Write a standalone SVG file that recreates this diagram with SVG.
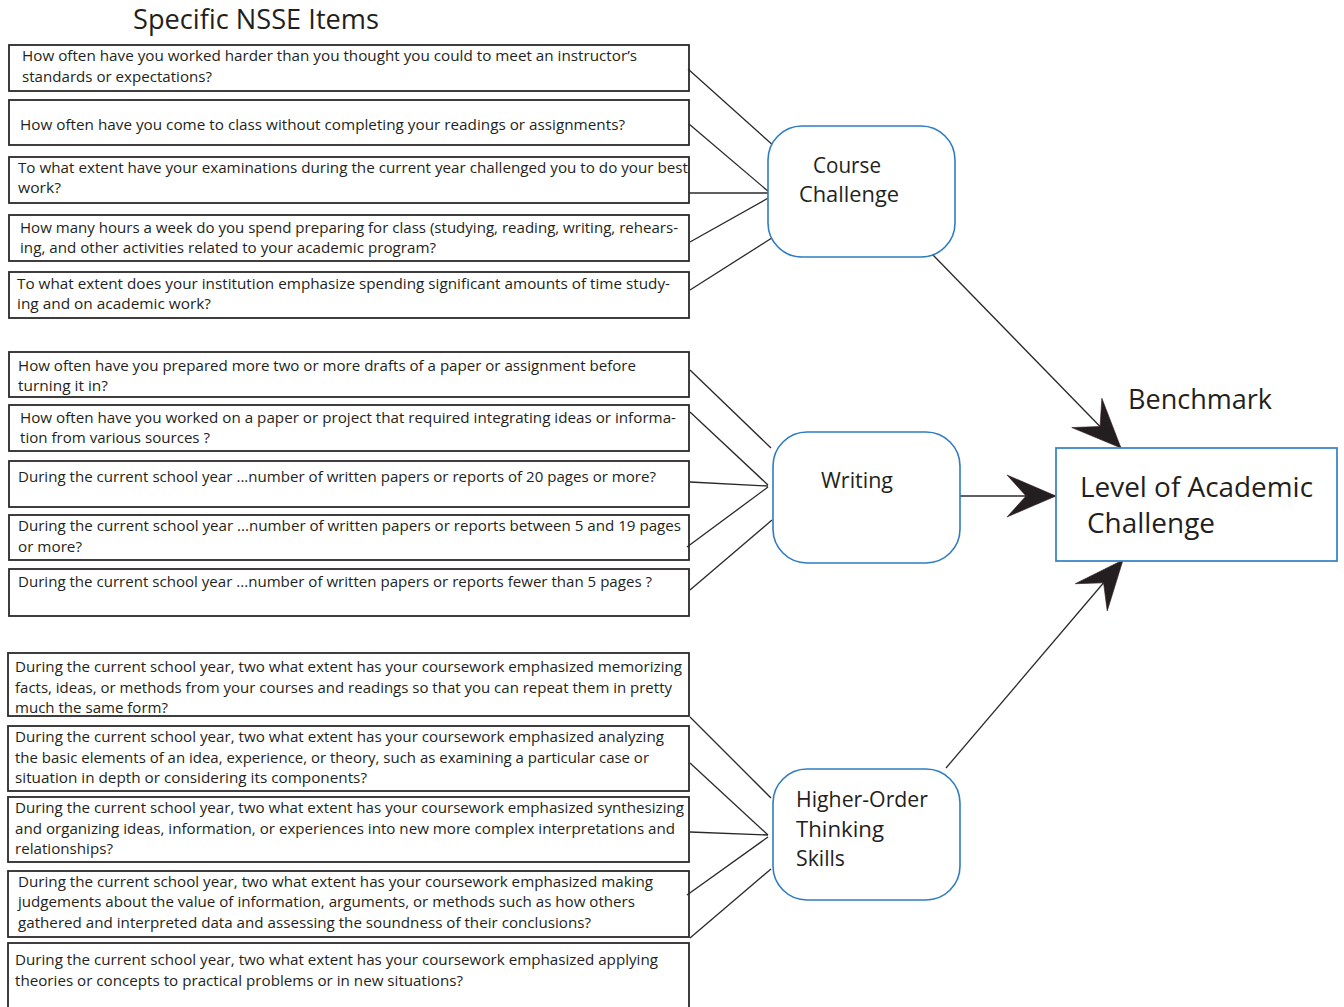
<svg xmlns="http://www.w3.org/2000/svg" width="1344" height="1007" viewBox="0 0 1344 1007">
  <style>
    .bg { fill: #ffffff; }
    .box { fill: #ffffff; stroke: #2b2828; stroke-width: 1.8; }
    .node { fill: #ffffff; stroke: #2f7cc2; stroke-width: 1.6; }
    .bench { fill: #ffffff; stroke: #3b86c8; stroke-width: 1.8; }
    .q { font-family: "Open Sans", "Noto Sans", "Liberation Sans", sans-serif; font-size: 14px; fill: #231f20; }
    .lbl { font-family: "Open Sans", "Noto Sans", "Liberation Sans", sans-serif; font-size: 22px; fill: #231f20; }
    .big { font-family: "Open Sans", "Noto Sans", "Liberation Sans", sans-serif; font-size: 27px; fill: #231f20; }
    .conn { stroke: #2b2828; stroke-width: 1.3; fill: none; }
    .arrow { stroke: #2b2828; stroke-width: 1.3; fill: none; marker-end: url(#stealth); }
  </style>
  <defs>
    <marker id="stealth" markerUnits="userSpaceOnUse" orient="auto" refX="0" refY="0" markerWidth="60" markerHeight="60" overflow="visible">
      <path d="M0,0 L-49,-21 L-30,0 L-49,21 Z" fill="#231f20" stroke="#3a1e1e" stroke-width="0.6"/>
    </marker>
  </defs>

  <rect class="bg" x="0" y="0" width="1344" height="1007"/>

  <text class="big" x="133" y="29" textLength="246" lengthAdjust="spacingAndGlyphs">Specific NSSE Items</text>

  <!-- Course challenge items -->
  <g id="item-1">
    <rect class="box" x="9" y="45" width="680" height="46"/>
    <text class="q" x="22" y="61" textLength="615" lengthAdjust="spacingAndGlyphs">How often have you worked harder than you thought you could to meet an instructor’s</text>
    <text class="q" x="22" y="82" textLength="190" lengthAdjust="spacingAndGlyphs">standards or expectations?</text>
  </g>
  <g id="item-2">
    <rect class="box" x="9" y="100" width="680" height="45"/>
    <text class="q" x="20" y="130" textLength="605" lengthAdjust="spacingAndGlyphs">How often have you come to class without completing your readings or assignments?</text>
  </g>
  <g id="item-3">
    <rect class="box" x="9" y="157" width="680" height="46"/>
    <text class="q" x="18" y="173" textLength="670" lengthAdjust="spacingAndGlyphs">To what extent have your examinations during the current year challenged you to do your best</text>
    <text class="q" x="18" y="193" textLength="43" lengthAdjust="spacingAndGlyphs">work?</text>
  </g>
  <g id="item-4">
    <rect class="box" x="9" y="215" width="680" height="46"/>
    <text class="q" x="20" y="233" textLength="658" lengthAdjust="spacingAndGlyphs">How many hours a week do you spend preparing for class (studying, reading, writing, rehears-</text>
    <text class="q" x="20" y="253" textLength="416" lengthAdjust="spacingAndGlyphs">ing, and other activities related to your academic program?</text>
  </g>
  <g id="item-5">
    <rect class="box" x="9" y="272" width="680" height="46"/>
    <text class="q" x="17" y="289" textLength="653" lengthAdjust="spacingAndGlyphs">To what extent does your institution emphasize spending significant amounts of time study-</text>
    <text class="q" x="17" y="309" textLength="194" lengthAdjust="spacingAndGlyphs">ing and on academic work?</text>
  </g>

  <!-- Writing items -->
  <g id="item-6">
    <rect class="box" x="9" y="352" width="680" height="45"/>
    <text class="q" x="18" y="371" textLength="618" lengthAdjust="spacingAndGlyphs">How often have you prepared more two or more drafts of a paper or assignment before</text>
    <text class="q" x="18" y="391" textLength="90" lengthAdjust="spacingAndGlyphs">turning it in?</text>
  </g>
  <g id="item-7">
    <rect class="box" x="9" y="405" width="680" height="46"/>
    <text class="q" x="20" y="423" textLength="656" lengthAdjust="spacingAndGlyphs">How often have you worked on a paper or project that required integrating ideas or informa-</text>
    <text class="q" x="20" y="443" textLength="190" lengthAdjust="spacingAndGlyphs">tion from various sources ?</text>
  </g>
  <g id="item-8">
    <rect class="box" x="9" y="461" width="680" height="46"/>
    <text class="q" x="18" y="482" textLength="638" lengthAdjust="spacingAndGlyphs">During the current school year ...number of written papers or reports of 20 pages or more?</text>
  </g>
  <g id="item-9">
    <rect class="box" x="9" y="515" width="680" height="45"/>
    <text class="q" x="18" y="531" textLength="663" lengthAdjust="spacingAndGlyphs">During the current school year ...number of written papers or reports between 5 and 19 pages</text>
    <text class="q" x="18" y="552" textLength="64" lengthAdjust="spacingAndGlyphs">or more?</text>
  </g>
  <g id="item-10">
    <rect class="box" x="9" y="569" width="680" height="47"/>
    <text class="q" x="18" y="587" textLength="634" lengthAdjust="spacingAndGlyphs">During the current school year ...number of written papers or reports fewer than 5 pages ?</text>
  </g>

  <!-- Higher-order thinking items -->
  <g id="item-11">
    <rect class="box" x="8" y="653" width="681" height="63"/>
    <text class="q" x="15" y="672" textLength="667" lengthAdjust="spacingAndGlyphs">During the current school year, two what extent has your coursework emphasized memorizing</text>
    <text class="q" x="15" y="693" textLength="657" lengthAdjust="spacingAndGlyphs">facts, ideas, or methods from your courses and readings so that you can repeat them in pretty</text>
    <text class="q" x="15" y="713" textLength="153" lengthAdjust="spacingAndGlyphs">much the same form?</text>
  </g>
  <g id="item-12">
    <rect class="box" x="8" y="726" width="681" height="65"/>
    <text class="q" x="15" y="742" textLength="649" lengthAdjust="spacingAndGlyphs">During the current school year, two what extent has your coursework emphasized analyzing</text>
    <text class="q" x="15" y="763" textLength="634" lengthAdjust="spacingAndGlyphs">the basic elements of an idea, experience, or theory, such as examining a particular case or</text>
    <text class="q" x="15" y="783" textLength="352" lengthAdjust="spacingAndGlyphs">situation in depth or considering its components?</text>
  </g>
  <g id="item-13">
    <rect class="box" x="8" y="797" width="681" height="65"/>
    <text class="q" x="15" y="813" textLength="669" lengthAdjust="spacingAndGlyphs">During the current school year, two what extent has your coursework emphasized synthesizing</text>
    <text class="q" x="15" y="834" textLength="660" lengthAdjust="spacingAndGlyphs">and organizing ideas, information, or experiences into new more complex interpretations and</text>
    <text class="q" x="15" y="854" textLength="98" lengthAdjust="spacingAndGlyphs">relationships?</text>
  </g>
  <g id="item-14">
    <rect class="box" x="8" y="871" width="681" height="66"/>
    <text class="q" x="18" y="887" textLength="635" lengthAdjust="spacingAndGlyphs">During the current school year, two what extent has your coursework emphasized making</text>
    <text class="q" x="18" y="907" textLength="617" lengthAdjust="spacingAndGlyphs">judgements about the value of information, arguments, or methods such as how others</text>
    <text class="q" x="18" y="928" textLength="573" lengthAdjust="spacingAndGlyphs">gathered and interpreted data and assessing the soundness of their conclusions?</text>
  </g>
  <g id="item-15">
    <rect class="box" x="8" y="943" width="681" height="72"/>
    <text class="q" x="15" y="965" textLength="643" lengthAdjust="spacingAndGlyphs">During the current school year, two what extent has your coursework emphasized applying</text>
    <text class="q" x="15" y="986" textLength="448" lengthAdjust="spacingAndGlyphs">theories or concepts to practical problems or in new situations?</text>
  </g>

  <!-- Connectors -->
  <g id="connectors">
    <line class="conn" x1="688" y1="69" x2="775" y2="147"/>
    <line class="conn" x1="689" y1="124" x2="769" y2="192"/>
    <line class="conn" x1="689" y1="193" x2="770" y2="193"/>
    <line class="conn" x1="690" y1="242" x2="772" y2="196"/>
    <line class="conn" x1="690" y1="290" x2="775" y2="236"/>

    <line class="conn" x1="690" y1="370" x2="771" y2="448"/>
    <line class="conn" x1="690" y1="412" x2="768" y2="485"/>
    <line class="conn" x1="690" y1="482" x2="768" y2="486"/>
    <line class="conn" x1="687" y1="547" x2="768" y2="487"/>
    <line class="conn" x1="690" y1="590" x2="772" y2="520"/>

    <line class="conn" x1="690" y1="717" x2="771" y2="798"/>
    <line class="conn" x1="690" y1="763" x2="768" y2="835"/>
    <line class="conn" x1="690" y1="832" x2="768" y2="835"/>
    <line class="conn" x1="687" y1="895" x2="768" y2="837"/>
    <line class="conn" x1="690" y1="938" x2="771" y2="869"/>

    <path class="arrow" d="M933,255 L1121,448"/>
    <path class="arrow" d="M960,496 L1056,496"/>
    <path class="arrow" d="M946,768 L1123,560"/>
  </g>

  <!-- Sub-scales -->
  <g id="course-challenge">
    <rect class="node" x="768" y="126" width="187" height="131" rx="34" ry="34"/>
    <text class="lbl" x="813" y="173" textLength="68" lengthAdjust="spacingAndGlyphs">Course</text>
    <text class="lbl" x="799" y="202" textLength="100" lengthAdjust="spacingAndGlyphs">Challenge</text>
  </g>
  <g id="writing">
    <rect class="node" x="773" y="432" width="187" height="131" rx="34" ry="34"/>
    <text class="lbl" x="821" y="488" textLength="72" lengthAdjust="spacingAndGlyphs">Writing</text>
  </g>
  <g id="higher-order-thinking">
    <rect class="node" x="773" y="769" width="187" height="131" rx="34" ry="34"/>
    <text class="lbl" x="796" y="807" textLength="132" lengthAdjust="spacingAndGlyphs">Higher-Order</text>
    <text class="lbl" x="796" y="837" textLength="88" lengthAdjust="spacingAndGlyphs">Thinking</text>
    <text class="lbl" x="796" y="866" textLength="49" lengthAdjust="spacingAndGlyphs">Skills</text>
  </g>

  <!-- Benchmark -->
  <g id="benchmark">
    <text class="big" x="1128" y="409" textLength="144" lengthAdjust="spacingAndGlyphs">Benchmark</text>
    <rect class="bench" x="1056" y="448" width="281" height="113"/>
    <text class="big" x="1080" y="497" textLength="233" lengthAdjust="spacingAndGlyphs">Level of Academic</text>
    <text class="big" x="1087" y="533" textLength="128" lengthAdjust="spacingAndGlyphs">Challenge</text>
  </g>
</svg>
